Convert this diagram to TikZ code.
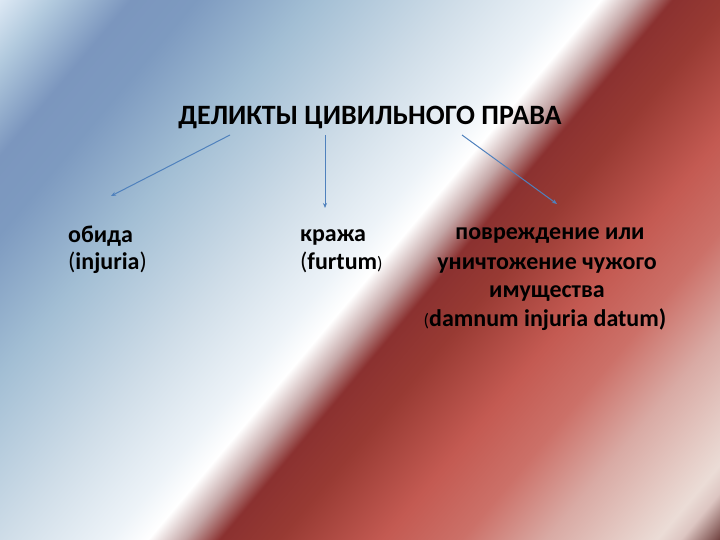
\documentclass[tikz,border=0pt]{standalone}
\usepackage{fontspec}
\setmainfont{Carlito}
\usetikzlibrary{arrows.meta}
\definecolor{s00}{HTML}{DCE8F4}
\definecolor{s01}{HTML}{B2CADE}
\definecolor{s02}{HTML}{7B96BE}
\definecolor{s03}{HTML}{7D9AC0}
\definecolor{s04}{HTML}{A2BED4}
\definecolor{s05}{HTML}{CFDDE8}
\definecolor{s06}{HTML}{EDF3F8}
\definecolor{s07}{HTML}{FFFFFF}
\definecolor{s08}{HTML}{C4A6A6}
\definecolor{s09}{HTML}{8B3130}
\definecolor{s10}{HTML}{983A33}
\definecolor{s11}{HTML}{C45A52}
\definecolor{s12}{HTML}{CC7068}
\definecolor{s13}{HTML}{D9AAA4}
\definecolor{s14}{HTML}{EBDCD6}
\definecolor{s15}{HTML}{DDC6C2}
\definecolor{s16}{HTML}{6A3A38}
\definecolor{arrowblue}{HTML}{4F81BD}
\pgfdeclarehorizontalshading{bgshade}{100bp}{color(0bp)=(s00); color(25bp)=(s00); color(27.22bp)=(s01); color(30.56bp)=(s02); color(33.33bp)=(s03); color(38.33bp)=(s04); color(44.44bp)=(s05); color(48.89bp)=(s06); color(50.56bp)=(s07); color(52.11bp)=(s08); color(53.61bp)=(s09); color(56.11bp)=(s10); color(60.56bp)=(s11); color(63.89bp)=(s12); color(67.5bp)=(s13); color(72.22bp)=(s14); color(73.22bp)=(s15); color(75bp)=(s16); color(100bp)=(s16)}
\tikzset{
  txt/.style={inner sep=0pt, font=\fontsize{24}{28.8}\selectfont\bfseries, text=black},
  ttl/.style={inner sep=0pt, font=\fontsize{28}{33.6}\selectfont\bfseries, text=black},
  arr/.style={draw=arrowblue, line width=1pt, -{Stealth[length=5pt,width=4pt]}},
}
\newcommand{\regparen}[1]{{\mdseries #1}}
\newcommand{\smallparen}[1]{{\mdseries\fontsize{18}{20}\selectfont #1}}
\begin{document}
\begin{tikzpicture}[x=1pt,y=-1pt]
\useasboundingbox (0,0) rectangle (720,540);
\begin{scope}
  \clip (0,0) rectangle (720,540);
  \begin{scope}[transform canvas={rotate=-40}]
    \shade[shading=bgshade] (0,-480) rectangle (900,430);
  \end{scope}
\end{scope}
\node[ttl, anchor=base] (title) at (370,125) {ДЕЛИКТЫ ЦИВИЛЬНОГО ПРАВА};
\node[txt, anchor=base west] (ob1) at (68,242) {обида};
\node[txt, anchor=base west] (ob2) at (68,269) {\regparen{(}injuria\regparen{)}};
\node[txt, anchor=base west] (kr1) at (300,241) {кража};
\node[txt, anchor=base west] (kr2) at (300,269) {\regparen{(}furtum\smallparen{)}};
\node[txt, anchor=base] (pv1) at (550,240) {повреждение или};
\node[txt, anchor=base] (pv2) at (547,269) {уничтожение чужого};
\node[txt, anchor=base] (pv3) at (547,297.5) {имущества};
\node[txt, anchor=base] (pv4) at (545,326) {\smallparen{(}damnum injuria datum)};
\coordinate (a1s) at (230,135);
\coordinate (a1e) at (111,196);
\coordinate (a2s) at (325,135);
\coordinate (a2e) at (325,208);
\coordinate (a3s) at (462,135);
\coordinate (a3e) at (557,204);
\draw[arr] (a1s) -- (a1e);
\draw[arr] (a2s) -- (a2e);
\draw[arr] (a3s) -- (a3e);
\end{tikzpicture}
\end{document}
